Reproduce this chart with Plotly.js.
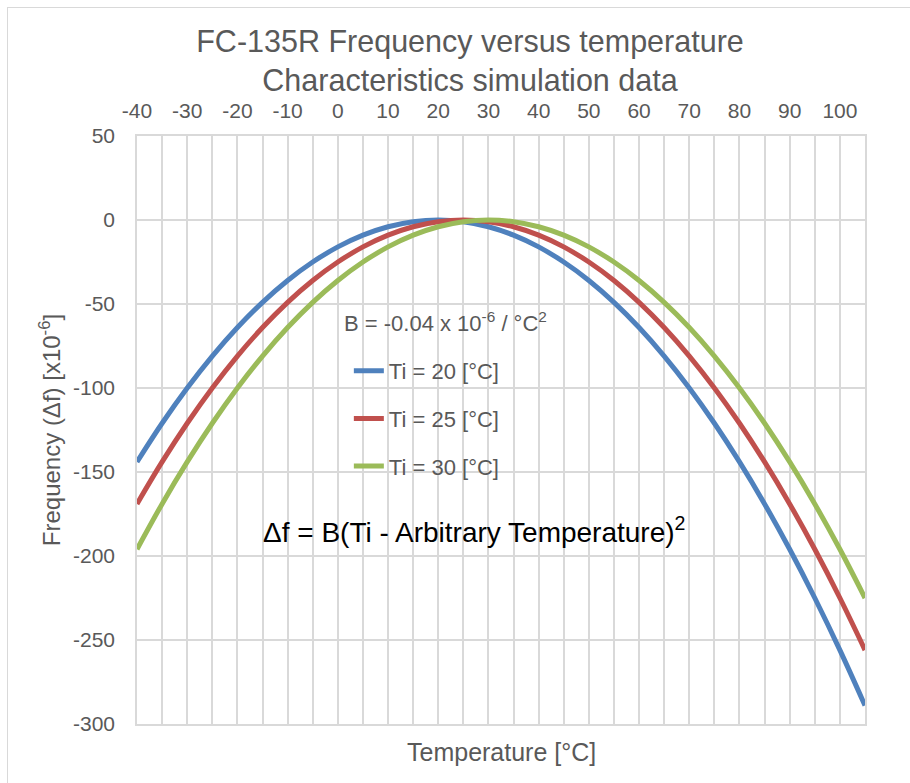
<!DOCTYPE html>
<html>
<head>
<meta charset="utf-8">
<script src="https://cdn.plot.ly/plotly-3.0.1.min.js"></script>
<style>
  html, body { margin: 0; padding: 0; background: #ffffff; overflow: hidden; }
  #frame { position: absolute; left: 7px; top: 7px; width: 1000px; height: 1000px;
           border-left: 1.5px solid #d9d9d9; border-top: 1.5px solid #d9d9d9; z-index: 0; }
  #chart { position: absolute; left: 0; top: 0; width: 910px; height: 783px; z-index: 1; }
</style>
</head>
<body>
<div id="frame"></div>
<div id="chart"></div>
<script>
// Temperature points [°C]
const temperature = [-40, -35, -30, -25, -20, -15, -10, -5, 0, 5, 10, 15, 20, 25, 30,
                     35, 40, 45, 50, 55, 60, 65, 70, 75, 80, 85, 90, 95, 100, 105];
// Frequency deviation [x10^-6], B = -0.04
const ti20 = [-144, -121, -100, -81, -64, -49, -36, -25, -16, -9, -4, -1, 0, -1, -4,
              -9, -16, -25, -36, -49, -64, -81, -100, -121, -144, -169, -196, -225, -256, -289];
const ti25 = [-169, -144, -121, -100, -81, -64, -49, -36, -25, -16, -9, -4, -1, 0, -1,
              -4, -9, -16, -25, -36, -49, -64, -81, -100, -121, -144, -169, -196, -225, -256];
const ti30 = [-196, -169, -144, -121, -100, -81, -64, -49, -36, -25, -16, -9, -4, -1, 0,
              -1, -4, -9, -16, -25, -36, -49, -64, -81, -100, -121, -144, -169, -196, -225];
const seriesNames = ['Ti = 20 [°C]', 'Ti = 25 [°C]', 'Ti = 30 [°C]'];
const xTickVals = [-40, -30, -20, -10, 0, 10, 20, 30, 40, 50, 60, 70, 80, 90, 100];
const yTickVals = [50, 0, -50, -100, -150, -200, -250, -300];

const colors = ['#4F81BD', '#C0504D', '#9BBB59'];
const textGrey = '#595959';
const gridGrey = '#D9D9D9';
const FONT = 'Liberation Sans, Arial, sans-serif';

const traces = [ti20, ti25, ti30].map((ys, i) => ({
  x: temperature, y: ys, type: 'scatter', mode: 'lines',
  name: seriesNames[i], legendgroup: 'g' + i,
  line: { color: colors[i], width: 5, shape: 'spline', smoothing: 1 },
  hoverinfo: 'x+y+name'
}));

const layout = {
  width: 910, height: 783,
  paper_bgcolor: 'rgba(0,0,0,0)', plot_bgcolor: '#ffffff',
  margin: { l: 137, r: 45, t: 136, b: 59, pad: 0 },
  font: { family: FONT, color: textGrey },
  title: {
    text: 'FC-135R Frequency versus temperature<br>Characteristics simulation data',
    font: { family: FONT, size: 30.5, color: textGrey },
    x: 0.5165, xref: 'container', xanchor: 'center',
    y: 0.934, yref: 'container', yanchor: 'middle'
  },
  xaxis: {
    range: [-40, 105], side: 'top',
    tickmode: 'array', tickvals: xTickVals, ticktext: xTickVals.map(String),
    tickfont: { family: FONT, size: 21, color: textGrey },
    ticks: '', ticklabelstandoff: 8,
    showgrid: true, gridcolor: gridGrey, gridwidth: 1.5,
    minor: { tick0: -40, dtick: 5, showgrid: true, gridcolor: gridGrey, gridwidth: 1.5 },
    showline: true, linecolor: gridGrey, linewidth: 1.5, mirror: true,
    zeroline: false, fixedrange: true
  },
  yaxis: {
    range: [-300, 50], tickmode: 'array', tickvals: yTickVals, ticktext: yTickVals.map(String),
    tickfont: { family: FONT, size: 21, color: textGrey },
    ticks: '', ticklabelstandoff: 16,
    showgrid: true, gridcolor: gridGrey, gridwidth: 1.5,
    showline: true, linecolor: gridGrey, linewidth: 1.5, mirror: true,
    zeroline: false, fixedrange: true,
    title: { text: 'Frequency (Δf) [x10<sup>-6</sup>]', font: { family: FONT, size: 24, color: textGrey }, standoff: 6 }
  },
  showlegend: true,
  legend: {
    x: 0.291, xanchor: 'left', y: 0.636, yanchor: 'top',
    bgcolor: 'rgba(0,0,0,0)', borderwidth: 0,
    font: { family: FONT, size: 22, color: textGrey },
    traceorder: 'grouped', tracegroupgap: 16
  },
  annotations: [
    {
      x: 0.5, y: -0.0476, xref: 'paper', yref: 'paper', xanchor: 'center', yanchor: 'middle',
      text: 'Temperature [°C]', showarrow: false,
      font: { family: FONT, size: 25, color: textGrey }
    },
    {
      x: 0.8, y: -60.5, xref: 'x', yref: 'y', xanchor: 'left', yanchor: 'middle',
      text: 'B = -0.04 x 10<sup>-6</sup> / °C<sup>2</sup>', showarrow: false,
      font: { family: FONT, size: 22, color: textGrey }
    },
    {
      x: -15.3, y: -184.5, xref: 'x', yref: 'y', xanchor: 'left', yanchor: 'middle',
      text: 'Δf = B(Ti - Arbitrary Temperature)<sup>2</sup>', showarrow: false,
      font: { family: FONT, size: 28, color: '#000000' }
    }
  ],
  hovermode: 'closest'
};

Plotly.newPlot('chart', traces, layout, { displayModeBar: false });
</script>
</body>
</html>
